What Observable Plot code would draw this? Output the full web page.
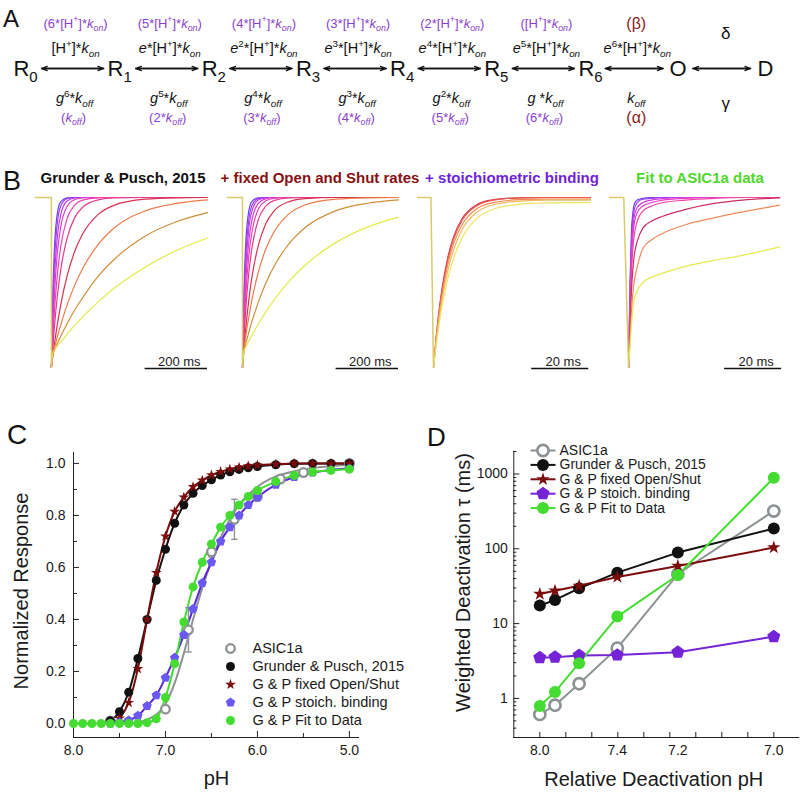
<!DOCTYPE html>
<html><head><meta charset="utf-8">
<script src="https://cdn.jsdelivr.net/npm/d3@7"></script>
<script src="https://cdn.jsdelivr.net/npm/@observablehq/plot@0.6"></script>
<style>
body{margin:0;background:#fff;}
#fig{position:relative;width:802px;height:792px;overflow:hidden;font-family:"Liberation Sans",Arial,sans-serif;background:#fff;}
.lbl{position:absolute;line-height:1;color:#111;}
.btitle{position:absolute;font-weight:bold;font-size:15px;line-height:1;white-space:nowrap;transform:translateX(-50%);}
</style></head><body><div id="fig"></div>
<script>
// ---------------- DATA ----------------
// Panel A : kinetic scheme
const states = ["R_{0}","R_{1}","R_{2}","R_{3}","R_{4}","R_{5}","R_{6}","O","D"];
const fwdRates = ["[H^{+}]*k_{on}","e*[H^{+}]*k_{on}","e^{2}*[H^{+}]*k_{on}","e^{3}*[H^{+}]*k_{on}","e^{4}*[H^{+}]*k_{on}","e^{5}*[H^{+}]*k_{on}","e^{6}*[H^{+}]*k_{on}"];
const fwdStoich = ["(6*[H^{+}]*k_{on})","(5*[H^{+}]*k_{on})","(4*[H^{+}]*k_{on})","(3*[H^{+}]*k_{on})","(2*[H^{+}]*k_{on})","([H^{+}]*k_{on})","(β)"];
const bwdRates = ["g^{6}*k_{off}","g^{5}*k_{off}","g^{4}*k_{off}","g^{3}*k_{off}","g^{2}*k_{off}","g *k_{off}","k_{off}"];
const bwdStoich = ["(k_{off})","(2*k_{off})","(3*k_{off})","(4*k_{off})","(5*k_{off})","(6*k_{off})","(α)"];
const odFwd = "δ", odBwd = "γ";

// Panel B : simulated currents (fraction recovered vs time, ms)
const bTitles = ["Grunder & Pusch, 2015","+ fixed Open and Shut rates","+ stoichiometric binding","Fit to ASIC1a data"];
const tB12 = [0,5,10,20,30,50,75,100,150,200,300,400,500];
const colorsB12 = ["#6a40f0","#9a3ef0","#c53ce6","#e03cd0","#f040b0","#e8388a","#d8304f","#ee7a4a","#cf8f38","#e2ea48"];
const tracesB1 = [
 [0,0.465,0.713,0.918,0.976,0.998,1,1,1,1,1,1,1],
 [0,0.393,0.632,0.865,0.950,0.993,0.999,1,1,1,1,1,1],
 [0,0.319,0.537,0.785,0.901,0.979,0.997,1,1,1,1,1,1],
 [0,0.255,0.445,0.692,0.829,0.947,0.988,0.997,1,1,1,1,1],
 [0,0.188,0.341,0.565,0.713,0.875,0.956,0.985,0.998,1,1,1,1],
 [0,0.133,0.249,0.435,0.576,0.760,0.883,0.943,0.986,0.997,1,1,1],
 [0,0.074,0.143,0.265,0.370,0.537,0.685,0.785,0.901,0.954,0.990,0.998,1],
 [0,0.080,0.117,0.188,0.252,0.367,0.486,0.582,0.724,0.819,0.921,0.965,0.986],
 [0,0.080,0.100,0.145,0.184,0.257,0.340,0.410,0.537,0.634,0.772,0.857,0.911],
 [0,0.092,0.104,0.130,0.150,0.196,0.249,0.298,0.386,0.465,0.590,0.688,0.762]
];
const tracesB2 = [
 [0,0.465,0.713,0.918,0.976,0.998,1,1,1,1,1,1,1],
 [0,0.393,0.632,0.865,0.950,0.993,0.999,1,1,1,1,1,1],
 [0,0.341,0.565,0.811,0.918,0.985,0.998,1,1,1,1,1,1],
 [0,0.283,0.487,0.736,0.865,0.964,0.993,1,1,1,1,1,1],
 [0,0.231,0.409,0.651,0.794,0.928,0.981,0.995,1,1,1,1,1],
 [0,0.181,0.330,0.551,0.699,0.865,0.950,0.982,0.998,1,1,1,1],
 [0,0.118,0.221,0.393,0.528,0.713,0.847,0.918,0.976,0.993,1,1,1],
 [0,0.111,0.177,0.294,0.395,0.556,0.698,0.794,0.905,0.956,0.990,0.998,1],
 [0,0.098,0.135,0.205,0.268,0.380,0.497,0.591,0.730,0.822,0.923,0.966,0.986],
 [0,0.099,0.118,0.154,0.188,0.253,0.327,0.394,0.508,0.600,0.736,0.826,0.885]
];
const tB3 = [0,1,2,3,5,7,10,15,20,30,40,55];
const colorsB3 = ["#d8304f","#e85a48","#f08a50","#f0b860","#eee65e"];
const tracesB3 = [
 [0,0.188,0.341,0.465,0.647,0.767,0.875,0.956,0.985,0.998,1,1],
 [0,0.181,0.330,0.451,0.632,0.753,0.865,0.950,0.982,0.998,1,1],
 [0,0.170,0.311,0.428,0.605,0.726,0.840,0.932,0.967,0.987,0.99,0.99],
 [0,0.156,0.288,0.398,0.569,0.690,0.810,0.911,0.953,0.979,0.985,0.985],
 [0,0.138,0.257,0.359,0.521,0.639,0.761,0.874,0.925,0.960,0.968,0.97]
];
const tB4 = [0,0.5,1,1.5,2,3,5,8,12,20,30,40,53];
const colorsB4 = ["#6a40f0","#a03ef0","#d03ce0","#e640c8","#f044a8","#c8305e","#f08a5a","#e6ea50"];
const tracesB4 = [
 [0,0.50,0.80,0.91,0.96,0.985,0.995,1,1,1,1,1,1],
 [0,0.45,0.74,0.87,0.93,0.97,0.99,0.995,1,1,1,1,1],
 [0,0.40,0.68,0.82,0.89,0.94,0.97,0.985,0.993,1,1,1,1],
 [0,0.35,0.62,0.77,0.85,0.91,0.95,0.97,0.985,0.995,1,1,1],
 [0,0.30,0.55,0.70,0.78,0.86,0.92,0.95,0.97,0.985,0.995,1,1],
 [0,0.25,0.45,0.58,0.66,0.74,0.82,0.86,0.89,0.93,0.965,0.985,0.998],
 [0,0.16,0.33,0.44,0.51,0.59,0.70,0.75,0.79,0.84,0.88,0.915,0.955],
 [0,0.12,0.25,0.34,0.40,0.45,0.50,0.53,0.555,0.595,0.63,0.66,0.71]
];

// Panel C : pH response
const asicPH   = [7.6,7.0,6.75,6.5,6.25,6.0,5.75,5.5,5.0];
const asicResp = [0.01,0.055,0.36,0.66,0.785,0.872,0.94,0.965,1.0];
const asicErr  = [0,0,0.085,0.02,0.077,0.012,0,0,0];
const asicFitPH = [7.4,7.2,7.0,6.9,6.8,6.7,6.6,6.5,6.4,6.3,6.2,6.0,5.8,5.6,5.4,5.0];
const asicFit   = [0.0,0.015,0.075,0.155,0.27,0.40,0.52,0.625,0.715,0.785,0.84,0.91,0.95,0.97,0.982,0.995];
const gpPH   = [7.6,7.5,7.4,7.3,7.2,7.1,7.0,6.9,6.8,6.7,6.6,6.5,6.4,6.3,6.2,6.1,6.0,5.8,5.6,5.4,5.2,5.0];
const gpResp = [0.01,0.045,0.12,0.25,0.40,0.55,0.67,0.77,0.84,0.885,0.915,0.937,0.955,0.968,0.977,0.983,0.988,0.995,0.999,1,1,1];
const fixPH   = [7.5,7.4,7.3,7.2,7.1,7.0,6.9,6.8,6.7,6.6,6.5,6.4,6.3,6.2,6.1,6.0,5.8,5.6,5.4,5.2,5.0];
const fixResp = [0.02,0.08,0.21,0.40,0.58,0.72,0.815,0.87,0.91,0.935,0.955,0.968,0.978,0.985,0.99,0.993,0.997,1,1,1,1];
const stoPH   = [7.6,7.5,7.4,7.3,7.2,7.1,7.0,6.9,6.8,6.7,6.6,6.5,6.4,6.3,6.2,6.1,6.0,5.8,5.6,5.4,5.2,5.0];
const stoResp = [0,0.005,0.012,0.03,0.067,0.108,0.176,0.253,0.34,0.44,0.54,0.62,0.70,0.755,0.80,0.84,0.87,0.918,0.948,0.965,0.975,0.98];
const fitPH   = [8.0,7.9,7.8,7.7,7.6,7.5,7.4,7.3,7.2,7.1,7.0,6.9,6.8,6.7,6.6,6.5,6.4,6.3,6.2,6.1,6.0,5.8,5.6,5.4,5.2,5.0];
const fitResp = [0,0,0,0,0,0,0,0,0.003,0.018,0.10,0.23,0.39,0.525,0.62,0.69,0.755,0.80,0.84,0.873,0.896,0.93,0.954,0.967,0.973,0.978];
const cXTicks = [8,7,6,5], cXMinor = [7.5,6.5,5.5];
const cYTicks = [0,0.2,0.4,0.6,0.8,1.0], cYMinor = [0.1,0.3,0.5,0.7,0.9];
const seriesNames = ["ASIC1a","Grunder & Pusch, 2015","G & P fixed Open/Shut","G & P stoich. binding","G & P Fit to Data"];

// Panel D : weighted deactivation tau
const dPH   = [8.0,7.8,7.6,7.4,7.2,7.0];
const dAsic = [0.61,0.81,1.57,4.7,46,320];
const dGP   = [17.4,20.7,29.6,48,89,187];
const dFix  = [24.9,27.5,32,42,59,104];
const dSto  = [3.5,3.55,3.75,3.8,4.15,6.7];
const dFit  = [0.79,1.22,2.96,12.4,44.6,890];
const dXLabelPH = [8.0,7.4,7.2,7.0];
const dXTicks = [1,2,3,4,5,6,7,8,9,10];
const dYTicks = [1,10,100,1000];

// ---------------- HELPERS ----------------
const FONT = '"Liberation Sans", Arial, Helvetica, sans-serif';
const INK = "#1a1a1a", PURPLE_A = "#8b3fcf", DARKRED = "#8b1a1a", GRAY = "#8c9194",
      RED = "#7c0c0c", PURP_LINE = "#5b25d9", PURP_DOT = "#6b57f2", PURP_D = "#7423d6",
      GREEN = "#44dc30", STEP = "#d9ca6c";
const fig = document.getElementById("fig");
function place(node, left, top){ node.style.position="absolute"; node.style.left=left+"px"; node.style.top=top+"px"; fig.appendChild(node); return node; }
function st(extra={}){ return Object.assign({fontFamily:FONT,fontSize:"14px",background:"transparent",overflow:"visible",color:INK}, extra); }
function div(cls, txt, left, top, css={}){ const d=document.createElement("div"); d.className=cls; d.textContent=txt; d.style.left=left+"px"; d.style.top=top+"px"; Object.assign(d.style, css); fig.appendChild(d); return d; }
const pentagon = { draw(ctx, size){ const R=Math.sqrt(size/2.3776); for(let k=0;k<5;k++){ const a=-Math.PI/2+k*2*Math.PI/5; const x=R*Math.cos(a), y=R*Math.sin(a); if(k) ctx.lineTo(x,y); else ctx.moveTo(x,y);} ctx.closePath(); } };
const SVGNS = "http://www.w3.org/2000/svg";
function richify(el){
  const base = parseFloat(getComputedStyle(el).fontSize) || 14;
  const str = el.textContent;
  while (el.firstChild) el.removeChild(el.firstChild);
  const parts = str.split(/(\^\{[^}]*\}|_\{[^}]*\})/).filter(s=>s);
  let shift = 0;
  for (const p of parts){
    let mode=0, txt=p;
    if (p.startsWith("^{")) { mode=-1; txt=p.slice(2,-1); }
    else if (p.startsWith("_{")) { mode=1; txt=p.slice(2,-1); }
    const target = mode===-1 ? -0.42*base : mode===1 ? 0.28*base : 0;
    const runs = txt.match(/[a-z]+|[^a-z]+/g) || [];
    runs.forEach((r,j)=>{
      const ts = document.createElementNS(SVGNS,"tspan");
      ts.textContent = r;
      if (/[a-z]/.test(r[0])) ts.setAttribute("font-style","italic");
      if (mode) ts.setAttribute("font-size",(0.68*base)+"px");
      if (j===0){ if (target!==shift) ts.setAttribute("dy",(target-shift)+"px"); shift=target; }
      el.appendChild(ts);
    });
  }
}

// ---------------- PANEL A ----------------
const nS = states.length;
const stateData = states.map((s,i)=>({i,s}));
const transData = fwdRates.map((f,i)=>({pos:i+0.5, fwd:f, fs:fwdStoich[i], bwd:bwdRates[i], bs:bwdStoich[i], last:i===fwdRates.length-1}));
const odData = [{pos:nS-1.5, f:odFwd, b:odBwd}];
const arrowData = d3.range(nS-1).map(i=>({a:i+0.17, b:i+0.83}));
const rowY = {fs:23, fwd:47.5, state:68, arrow:68, bwd:97.5, bs:117, delta:33, gamma:103};
const plotA = Plot.plot({
  width:802, height:135, margin:0,
  x:{type:"linear", domain:[0,nS-3,nS-1], range:[25,590,765], axis:null},
  y:{type:"linear", domain:[0,135], range:[0,135], axis:null},
  style: st({color:"#111"}),
  marks:[
    Plot.arrow(arrowData,{x1:"a",x2:"b",y1:()=>rowY.arrow,y2:()=>rowY.arrow,headLength:7,headAngle:40,strokeWidth:1.3}),
    Plot.arrow(arrowData,{x1:"b",x2:"a",y1:()=>rowY.arrow,y2:()=>rowY.arrow,headLength:7,headAngle:40,strokeWidth:1.3}),
    Plot.text(stateData,{x:"i",y:()=>rowY.state,text:"s",fontSize:22}),
    Plot.text(transData,{x:"pos",y:()=>rowY.fwd,text:"fwd",fontSize:14.5,dx:3}),
    Plot.text(transData,{x:"pos",y:()=>rowY.bwd,text:"bwd",fontSize:14.5,dx:2}),
    Plot.text(transData,{filter:d=>!d.last,x:"pos",y:()=>rowY.fs,text:"fs",fontSize:13,fill:PURPLE_A,dx:3}),
    Plot.text(transData,{filter:d=>!d.last,x:"pos",y:()=>rowY.bs,text:"bs",fontSize:13,fill:PURPLE_A,dx:1}),
    Plot.text(transData,{filter:d=>d.last,x:"pos",y:()=>rowY.fs,text:"fs",fontSize:16,fill:DARKRED,dx:2}),
    Plot.text(transData,{filter:d=>d.last,x:"pos",y:()=>rowY.bs,text:"bs",fontSize:16,fill:DARKRED,dx:2}),
    Plot.text(odData,{x:"pos",y:()=>rowY.delta,text:"f",fontSize:17,dx:4}),
    Plot.text(odData,{x:"pos",y:()=>rowY.gamma,text:"b",fontSize:17,dx:4})
  ]
});
place(plotA,0,0);
d3.select(plotA).selectAll('g[aria-label="text"] text').each(function(){ richify(this); });

// ---------------- PANEL B ----------------
function tracePanel(cfg){
  const {times,traces,colors,step,xDomain,bar,barText,width,mr} = cfg;
  const marks = traces.map((vals,k)=>Plot.line(vals.map((r,j)=>({t:times[j],r})),{x:"t",y:"r",stroke:colors[k],strokeWidth:1.2,curve:"monotone-x"}));
  marks.push(Plot.line(step,{x:"t",y:"r",stroke:STEP,strokeWidth:1.5}));
  marks.push(Plot.ruleY([{y:-0.006,a:bar[0],b:bar[1]}],{y:"y",x1:"a",x2:"b",stroke:"#111",strokeWidth:1.6}));
  marks.push(Plot.text([{x:(bar[0]+bar[1])/2,y:0,s:barText}],{x:"x",y:"y",text:"s",lineAnchor:"bottom",dy:-2,dx:3,fontSize:13}));
  return Plot.plot({width,height:190,marginLeft:5,marginRight:mr,marginTop:12,marginBottom:8,
    x:{domain:xDomain,axis:null},y:{domain:[0,1],axis:null},style:st(),marks});
}
place(tracePanel({times:tB12,traces:tracesB1,colors:colorsB12,step:[{t:-51,r:1},{t:0,r:1},{t:0,r:0}],xDomain:[-51,500],bar:[300,500],barText:"200 ms",width:182,mr:5}),30,185);
place(tracePanel({times:tB12,traces:tracesB2,colors:colorsB12,step:[{t:-48,r:1},{t:0,r:1},{t:0,r:0}],xDomain:[-48,500],bar:[300,500],barText:"200 ms",width:182,mr:6}),222,185);
place(tracePanel({times:tB3,traces:tracesB3,colors:colorsB3,step:[{t:-5.6,r:1},{t:-0.9,r:1},{t:0,r:0}],xDomain:[-5.6,55],bar:[34.4,54.4],barText:"20 ms",width:183,mr:5}),412,185);
place(tracePanel({times:tB4,traces:tracesB4,colors:colorsB4,step:[{t:-6.7,r:1},{t:-1.7,r:1},{t:0,r:0}],xDomain:[-6.7,53.3],bar:[33.7,53.7],barText:"20 ms",width:182,mr:6}),604,185);
const titleX = [123,320,512,700], titleC = ["#111","#8a1010","#6f1fd8","#4fd82c"];
bTitles.forEach((t,i)=>div("btitle",t,titleX[i],170,{color:titleC[i]}));

// ---------------- PANEL C ----------------
const zip = (xs,ys,extra={}) => xs.map((x,i)=>Object.assign({ph:x,v:ys[i]},Object.fromEntries(Object.entries(extra).map(([k,a])=>[k,a[i]]))));
const asic = zip(asicPH,asicResp,{e:asicErr});
const asicErrs = asic.filter(d=>d.e>0).map(d=>({ph:d.ph,lo:d.v-d.e,hi:d.v+d.e}));
const cW=400,cH=352,cML=73,cMR=41,cMT=12,cMB=55;
const cFW=cW-cML-cMR, cFH=cH-cMT-cMB;
const yMinC=-0.054, yMaxC=1.042;
const plotC = Plot.plot({
  width:cW,height:cH,marginLeft:cML,marginRight:cMR,marginTop:cMT,marginBottom:cMB,
  x:{domain:[8,4.89]}, y:{domain:[yMinC,yMaxC]},
  style:st(),
  marks:[
    Plot.ruleX([8],{stroke:"#222"}),
    Plot.ruleY([yMinC],{stroke:"#222"}),
    Plot.tickX(cXTicks,{x:d=>d,insetTop:cFH-6,stroke:"#222"}),
    Plot.tickX(cXMinor,{x:d=>d,insetTop:cFH-4,stroke:"#222"}),
    Plot.tickY(cYTicks,{y:d=>d,insetRight:cFW-6,stroke:"#222"}),
    Plot.tickY(cYMinor,{y:d=>d,insetRight:cFW-4,stroke:"#222"}),
    Plot.axisX({ticks:cXTicks,tickSize:0,tickPadding:8,tickFormat:d=>d.toFixed(1),fontSize:14,label:null}),
    Plot.axisY({ticks:cYTicks,tickSize:0,tickPadding:8,tickFormat:d=>d.toFixed(1),fontSize:14,label:null}),
    Plot.text(["pH"],{text:d=>d,frameAnchor:"bottom",dy:47,fontSize:20}),
    Plot.text(["Normalized Response"],{text:d=>d,frameAnchor:"left",textAnchor:"middle",lineAnchor:"middle",rotate:-90,dx:-52,dy:-4,fontSize:20}),
    Plot.line(asicFitPH.map((p,i)=>({ph:p,v:asicFit[i]})),{x:"ph",y:"v",stroke:GRAY,strokeWidth:2,curve:"monotone-x"}),
    Plot.line(zip(stoPH,stoResp),{x:"ph",y:"v",stroke:PURP_LINE,strokeWidth:2,curve:"monotone-x"}),
    Plot.line(zip(fitPH,fitResp),{x:"ph",y:"v",stroke:GREEN,strokeWidth:2,curve:"monotone-x"}),
    Plot.line(zip(gpPH,gpResp),{x:"ph",y:"v",stroke:"#111",strokeWidth:2,curve:"monotone-x"}),
    Plot.line(zip(fixPH,fixResp),{x:"ph",y:"v",stroke:RED,strokeWidth:2,curve:"monotone-x"}),
    Plot.ruleX(asicErrs,{x:"ph",y1:"lo",y2:"hi",stroke:GRAY,strokeWidth:1.4}),
    Plot.link(asicErrs,{x1:d=>d.ph+0.035,x2:d=>d.ph-0.035,y1:"hi",y2:"hi",stroke:GRAY,strokeWidth:1.4}),
    Plot.link(asicErrs,{x1:d=>d.ph+0.035,x2:d=>d.ph-0.035,y1:"lo",y2:"lo",stroke:GRAY,strokeWidth:1.4}),
    Plot.dot(asic,{x:"ph",y:"v",r:4.3,stroke:GRAY,strokeWidth:2.3,fill:"white"}),
    Plot.dot(zip(gpPH,gpResp),{x:"ph",y:"v",r:4.5,fill:"#111"}),
    Plot.dot(zip(fixPH,fixResp),{x:"ph",y:"v",r:3.4,symbol:"star",fill:RED}),
    Plot.dot(zip(stoPH,stoResp),{x:"ph",y:"v",r:4.3,symbol:pentagon,fill:PURP_DOT}),
    Plot.dot(zip(fitPH,fitResp),{x:"ph",y:"v",r:4.5,fill:GREEN})
  ]
});
place(plotC,0,440);

// legend C
const legC = seriesNames.map((n,i)=>({n,i,y:18+18*i}));
const symC = [
  {sym:"circle",r:4.3,fill:"white",stroke:GRAY,sw:2.3},
  {sym:"circle",r:4.5,fill:"#111",stroke:"none",sw:0},
  {sym:"star",r:3.4,fill:RED,stroke:"none",sw:0},
  {sym:pentagon,r:4.3,fill:PURP_DOT,stroke:"none",sw:0},
  {sym:"circle",r:4.5,fill:GREEN,stroke:"none",sw:0}
];
const plotLegC = Plot.plot({
  width:200,height:110,margin:0,
  x:{type:"identity",axis:null}, y:{type:"identity",axis:null},
  style:st({fontSize:"14.5px"}),
  marks:[
    ...legC.map(d=>Plot.dot([d],{x:()=>30,y:"y",r:symC[d.i].r,symbol:symC[d.i].sym,fill:symC[d.i].fill,stroke:symC[d.i].stroke,strokeWidth:symC[d.i].sw})),
    Plot.text(legC,{x:()=>52,y:"y",text:"n",textAnchor:"start",fontSize:14.5})
  ]
});
place(plotLegC,200,630);

// ---------------- PANEL D ----------------
const relH = ph => Math.pow(10, 8-ph);
const dSeries = [
  {vals:dAsic,color:GRAY,sym:"circle",r:5.6,fill:"white",stroke:GRAY,sw:2.6},
  {vals:dGP,color:"#111",sym:"circle",r:6,fill:"#111",stroke:"none",sw:0},
  {vals:dFix,color:RED,sym:"star",r:4.2,fill:RED,stroke:"none",sw:0},
  {vals:dSto,color:PURP_D,sym:pentagon,r:6,fill:PURP_D,stroke:"none",sw:0},
  {vals:dFit,color:GREEN,sym:"circle",r:6,fill:GREEN,stroke:"none",sw:0}
];
const dMinor = [];
[0.1,1,10,100,1000].forEach(dec=>{ for(let k=2;k<=9;k++){ const v=k*dec; if(v>=0.3&&v<=2000&&![1,10,100,1000].includes(v)) dMinor.push(v);} });
dMinor.push(2000);
const dW=402,dH=352,dML=113.3,dMR=2.7,dMT=11,dMB=55;
const dFW=dW-dML-dMR, dFH=dH-dMT-dMB;
const plotD = Plot.plot({
  width:dW,height:dH,marginLeft:dML,marginRight:dMR,marginTop:dMT,marginBottom:dMB,
  x:{domain:[0,11]}, y:{type:"log",domain:[0.3,2000]},
  style:st(),
  marks:[
    Plot.ruleX([0],{stroke:"#222"}),
    Plot.ruleY([0.3],{stroke:"#222"}),
    Plot.tickX(dXTicks,{x:d=>d,insetTop:dFH-5,stroke:"#222"}),
    Plot.tickY(dYTicks,{y:d=>d,insetRight:dFW-6,stroke:"#222"}),
    Plot.tickY(dMinor,{y:d=>d,insetRight:dFW-3,stroke:"#222"}),
    Plot.axisX({ticks:dXLabelPH.map(relH),tickSize:0,tickPadding:8,tickFormat:d=>(8-Math.log10(d)).toFixed(1),fontSize:14,label:null}),
    Plot.axisY({ticks:dYTicks,tickSize:0,tickPadding:6,tickFormat:d=>String(d),fontSize:14,label:null}),
    Plot.text(["Relative Deactivation pH"],{text:d=>d,frameAnchor:"bottom",dy:48,dx:-3,fontSize:20}),
    Plot.text(["Weighted Deactivation τ (ms)"],{text:d=>d,frameAnchor:"left",textAnchor:"middle",lineAnchor:"middle",rotate:-90,dx:-50,dy:-12,fontSize:20}),
    ...dSeries.map(s=>Plot.line(dPH.map((p,i)=>({x:relH(p),v:s.vals[i]})),{x:"x",y:"v",stroke:s.color,strokeWidth:2})),
    ...dSeries.map(s=>Plot.dot(dPH.map((p,i)=>({x:relH(p),v:s.vals[i]})),{x:"x",y:"v",r:s.r,symbol:s.sym,fill:s.fill,stroke:s.stroke,strokeWidth:s.sw}))
  ]
});
place(plotD,400,440);

// legend D
const legD = seriesNames.map((n,i)=>({n,i,y:10+14.4*i}));
const plotLegD = Plot.plot({
  width:240,height:80,margin:0,
  x:{type:"identity",axis:null}, y:{type:"identity",axis:null},
  style:st({fontSize:"14px"}),
  marks:[
    ...legD.map(d=>Plot.link([d],{x1:()=>10,x2:()=>35,y1:"y",y2:"y",stroke:dSeries[d.i].color,strokeWidth:2})),
    ...legD.map(d=>Plot.dot([d],{x:()=>22.5,y:"y",r:dSeries[d.i].r,symbol:dSeries[d.i].sym,fill:dSeries[d.i].fill,stroke:dSeries[d.i].stroke,strokeWidth:dSeries[d.i].sw})),
    Plot.text(legD,{x:()=>39,y:"y",text:"n",textAnchor:"start",fontSize:14})
  ]
});
place(plotLegD,520,440);

// panel letters
div("lbl","A",3,7,{fontSize:"24px"});
div("lbl","B",3,168,{fontSize:"27px"});
div("lbl","C",7,421,{fontSize:"28px"});
div("lbl","D",427,424,{fontSize:"26px"});
</script></body></html>
